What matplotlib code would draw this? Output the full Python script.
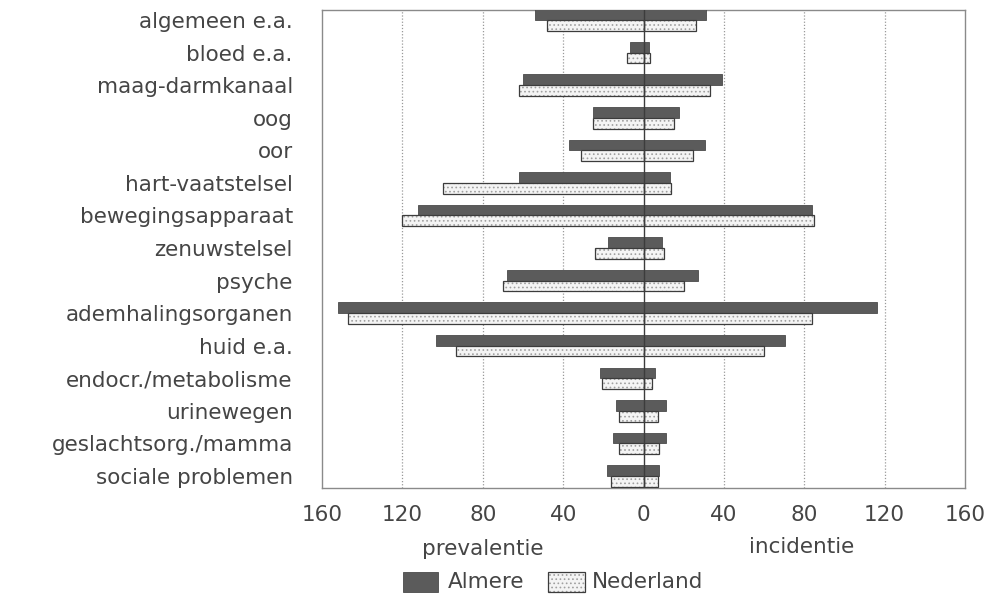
import numpy as np
import matplotlib
matplotlib.use('Agg')
import matplotlib.pyplot as plt
from matplotlib.patches import Rectangle

categories = ['algemeen e.a.', 'bloed e.a.', 'maag-darmkanaal', 'oog', 'oor',
              'hart-vaatstelsel', 'bewegingsapparaat', 'zenuwstelsel', 'psyche',
              'ademhalingsorganen', 'huid e.a.', 'endocr./metabolisme',
              'urinewegen', 'geslachtsorg./mamma', 'sociale problemen']

# prevalentie (links), incidentie (rechts)
prev_almere = [54, 6.5, 60, 25, 37, 62, 112, 17.5, 68, 152, 103.5, 21.5, 13.5, 15, 18]
prev_nl = [48, 8, 62, 25, 31, 100, 120, 24, 70, 147, 93.5, 20.5, 12, 12, 16]
inc_almere = [31, 2.7, 39, 17.5, 30.5, 13, 84, 9.3, 27, 116, 70.6, 5.6, 11, 11, 7.6]
inc_nl = [26, 3, 33, 15, 24.5, 13.5, 85, 10, 20, 84, 60, 4, 7.1, 7.8, 7.1]

ticks = [-160, -120, -80, -40, 0, 40, 80, 120, 160]
tick_labels = ['160', '120', '80', '40', '0', '40', '80', '120', '160']

txt = '#454545'
dark = '#5b5b5b'

fig = plt.figure(figsize=(9.93, 5.99), dpi=100)
ax = fig.add_axes([0.3243, 0.1853, 0.6475, 0.798])

y = np.arange(len(categories))
h = 0.33

# Almere: donker, boven
ax.barh(y - h / 2, [-v for v in prev_almere], height=h, color=dark,
        edgecolor='#4a4a4a', linewidth=0.6, zorder=3)
ax.barh(y - h / 2, inc_almere, height=h, color=dark,
        edgecolor='#4a4a4a', linewidth=0.6, zorder=3)

# Nederland: gestippeld, onder
plt.rcParams['hatch.linewidth'] = 0.7
for vals in ([-v for v in prev_nl], inc_nl):
    ax.barh(y + h / 2, vals, height=h, color='#f4f4f4', hatch='....',
            edgecolor='#a0a0a0', linewidth=0, zorder=3)
    ax.barh(y + h / 2, vals, height=h, fill=False,
            edgecolor='#3c3c3c', linewidth=0.9, zorder=4)

ax.set_xlim(-160, 160)
ax.set_ylim(14.37, -0.31)
ax.axvline(0, color='#3c3c3c', linewidth=1.0, zorder=5)
for t in [-120, -80, -40, 40, 80, 120]:
    ax.axvline(t, color='#9a9a9a', linestyle=(0, (1, 1.5)), linewidth=0.9, zorder=1)

ax.set_xticks(ticks)
ax.set_xticklabels(tick_labels, fontsize=15.5, color=txt)
ax.set_yticks(y)
ax.set_yticklabels(categories, fontsize=15.5, color=txt)
ax.tick_params(length=0)
ax.tick_params(axis='y', pad=21)
ax.tick_params(axis='x', pad=12)
for s in ax.spines.values():
    s.set_color('#8a8a8a')
    s.set_linewidth(1.0)

fig.text(0.4864, 0.083, 'prevalentie', fontsize=15.5, color=txt, ha='center', va='center')
fig.text(0.8077, 0.087, 'incidentie', fontsize=15.5, color=txt, ha='center', va='center')

# legenda
fig.patches.append(Rectangle((403 / 993, 1 - 592 / 599), 35 / 993, 20 / 599,
                             transform=fig.transFigure, facecolor=dark,
                             edgecolor='#4a4a4a', linewidth=0.6))
fig.patches.append(Rectangle((548 / 993, 1 - 592 / 599), 37 / 993, 20 / 599,
                             transform=fig.transFigure, facecolor='#f4f4f4',
                             hatch='....', edgecolor='#a0a0a0', linewidth=0))
fig.patches.append(Rectangle((548 / 993, 1 - 592 / 599), 37 / 993, 20 / 599,
                             transform=fig.transFigure, fill=False,
                             edgecolor='#3c3c3c', linewidth=0.9))
fig.text(448 / 993, 1 - 582 / 599, 'Almere', fontsize=15.5, color=txt, va='center')
fig.text(592 / 993, 1 - 582 / 599, 'Nederland', fontsize=15.5, color=txt, va='center')

fig.savefig('out.png', dpi=100)
